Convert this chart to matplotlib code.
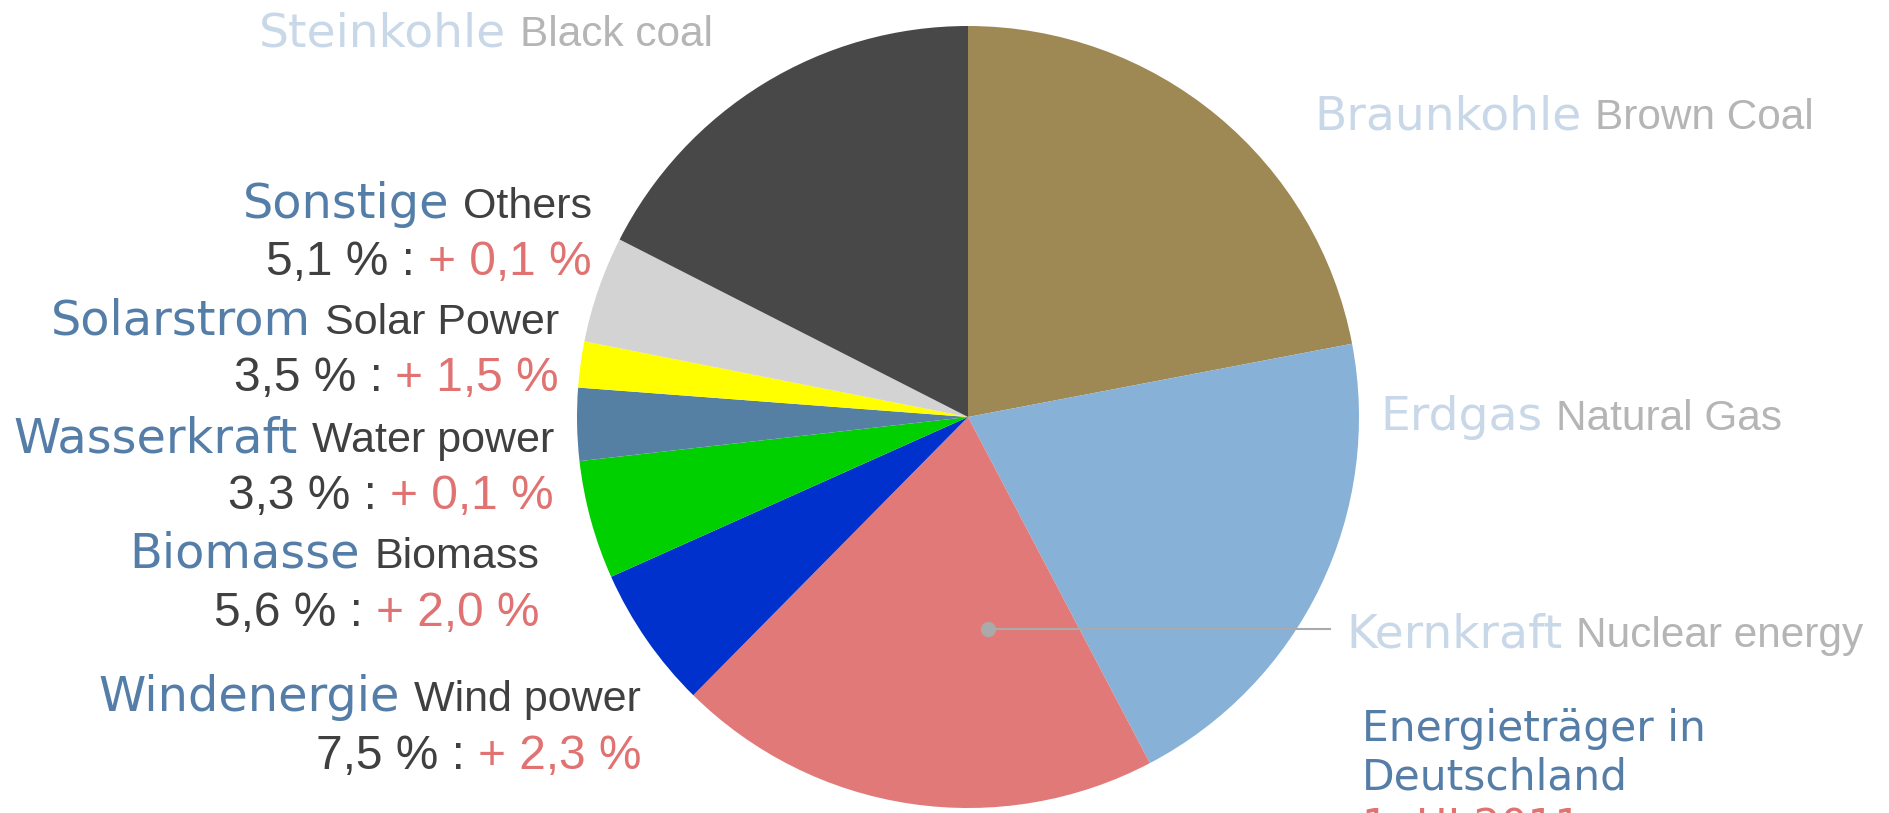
import matplotlib
matplotlib.use("Agg")
import matplotlib.pyplot as plt

W, H = 1890, 813

# slice shares, clockwise from 12 o'clock
sources = ["Braunkohle", "Erdgas", "Kernkraft", "Windenergie", "Biomasse",
           "Wasserkraft", "Solarstrom", "Sonstige", "Steinkohle"]
shares = [22.0, 20.3, 20.1, 5.9, 4.9, 3.0, 1.9, 4.4, 17.5]
colors = ["#9e8854", "#87b1d7", "#e27979", "#0031cc", "#00d000",
          "#557fa3", "#ffff00", "#d3d3d3", "#484848"]

# labels of the small slices (left side)
left_de = ["Sonstige", "Solarstrom", "Wasserkraft", "Biomasse", "Windenergie"]
left_en = ["Others", "Solar Power", "Water power", "Biomass", "Wind power"]
left_val = ["5,1 % :", "3,5 % :", "3,3 % :", "5,6 % :", "7,5 % :"]
left_delta = ["+ 0,1 %", "+ 1,5 %", "+ 0,1 %", "+ 2,0 %", "+ 2,3 %"]

# faded labels of the big slices
big_de = ["Steinkohle", "Braunkohle", "Erdgas", "Kernkraft"]
big_en = ["Black coal", "Brown Coal", "Natural Gas", "Nuclear energy"]

title_lines = ["Energieträger in", "Deutschland"]
title_period = "1. HJ 2011"

BLUE = "#547ea8"
DARK = "#404040"
RED = "#e07272"
FADE_BLUE = "#c9d8e8"
FADE_GREY = "#b5b5b5"
DE_FONT = "DejaVu Sans"
EN_FONT = "Liberation Sans"

fig = plt.figure(figsize=(W / 100, H / 100), dpi=100)
ax = fig.add_axes([0, 0, 1, 1])

cx, cy, rad = 968, 417, 391
ax.pie(shares, colors=colors, startangle=90, counterclock=False,
       center=(cx, H - cy), radius=rad, wedgeprops=dict(linewidth=0))
ax.set_xlim(0, W)
ax.set_ylim(0, H)
ax.set_aspect("equal")
ax.axis("off")

renderer = fig.canvas.get_renderer()


def put_line(x, y, parts, align="right", gap=13):
    arts = [ax.text(0, H - y, s, fontsize=fs, color=c, family=fam,
                    va="baseline", ha="left") for s, fs, c, fam in parts]
    widths = [a.get_window_extent(renderer).width for a in arts]
    total = sum(widths) + gap * (len(parts) - 1)
    x0 = x - total if align == "right" else x
    for a, w in zip(arts, widths):
        a.set_x(x0)
        x0 += w + gap


# left labels: (right edge, name baseline, value baseline)
left_pos = [(592, 218, 275), (559, 334, 391), (554, 452, 509),
            (539, 568, 626), (641, 711, 769)]
for de, en, v, d, (xr, yn, yv) in zip(left_de, left_en, left_val, left_delta, left_pos):
    put_line(xr, yn, [(de, 34.5, BLUE, DE_FONT), (en, 31, DARK, EN_FONT)], gap=14)
    put_line(xr, yv, [(v, 34.5, DARK, EN_FONT), (d, 34.5, RED, EN_FONT)], gap=13)

# faded labels, left aligned
big_pos = [(259, 46), (1314, 129), (1380, 430), (1346, 647)]
for de, en, (xl, yb) in zip(big_de, big_en, big_pos):
    put_line(xl, yb, [(de, 34, FADE_BLUE, DE_FONT), (en, 30.5, FADE_GREY, EN_FONT)],
             align="left", gap=14)

# leader line for Kernkraft
ax.plot([988, 1330], [H - 629, H - 629], color="#aaaaaa", lw=1.5)
ax.plot([988], [H - 629], "o", color="#aaaaaa", ms=10)

# title block (bottom right, partly cut off as in the source)
for i, t in enumerate(title_lines):
    ax.text(1362, H - (741 + 49 * i), t, fontsize=30.5, color=BLUE,
            family=DE_FONT, va="baseline", ha="left")
ax.text(1362, H - 839, title_period, fontsize=30.5, color=RED,
        family=DE_FONT, va="baseline", ha="left", clip_on=False)

fig.savefig("out.png", dpi=100)
